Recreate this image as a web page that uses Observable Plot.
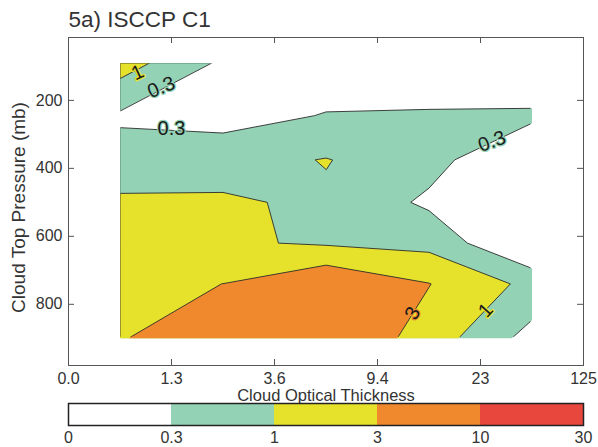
<!DOCTYPE html>
<html>
<head>
<meta charset="utf-8">
<script src="https://cdn.jsdelivr.net/npm/d3@7"></script>
<script src="https://cdn.jsdelivr.net/npm/@observablehq/plot@0.6"></script>
<style>
  html, body { margin: 0; padding: 0; background: #fff; }
  #chart { width: 598px; height: 447px; overflow: hidden; position: relative; background: #fff; }
  #chart svg { display: block; overflow: visible; position: absolute; left: 0; }
</style>
</head>
<body>
<div id="chart"></div>
<script>
// ---------- data ----------
const title = "5a) ISCCP C1";
const xLabel = "Cloud Optical Thickness";
const yLabel = "Cloud Top Pressure (mb)";
const tauTickLabels = ["0.0", "1.3", "3.6", "9.4", "23", "125"];   // bin edges
const tauBinCenters = [0.5, 1.5, 2.5, 3.5, 4.5];                     // bin index positions
const pressureLevels = [90, 245, 375, 500, 620, 740, 900];            // mb
const pressureTicks = [200, 400, 600, 800];
// cloud amount (%) : one row per pressure level, one column per optical-thickness bin
const cloudAmount = [
  [1.76, 0.24,  0.13,  0.087, 0.056],
  [0.25, 0.18,  0.32,  0.355, 0.394],
  [0.49, 0.66,  1.05,  0.468, 0.079],
  [1.21, 1.135, 0.845, 0.24,  0.05 ],
  [1.58, 1.153, 0.885, 0.721, 0.069],
  [2.0,  3.02,  8.5,   3.09,  0.741],
  [2.82, 6.0,   7.9,   1.95,  0.19 ]
];
const contourLevels = [0.3, 1, 3, 10];
const legendLabels = ["0", "0.3", "1", "3", "10", "30"];
// contour line labels (position in tau-bin / pressure units)
const labelTau   = [0.67, 0.90, 1.00, 4.11, 3.34, 4.05];
const labelP     = [118,  162,  282,  321,  826,  818];
const labelLevel = [1,    0.3,  0.3,  0.3,  3,    1];
const labelAngle = [-25,  -22,  0,    -20,  -61,  -48];

// ---------- styling ----------
const levelColors = ["#ffffff", "#93d2b4", "#e6e22c", "#f0892e", "#e8473d"];
const font = "'Liberation Sans', Arial, Helvetica, sans-serif";
const W = 598, H1 = 400, H2 = 47;
const mL = 68, mR = 15, mT = 37, mB = 35;
const frameW = W - mL - mR, frameH = H1 - mT - mB;

// ---------- derived tables ----------
const nCols = tauBinCenters.length, nRows = pressureLevels.length;
const rowIndex = d3.range(nRows);
const labels = labelTau.map((tau, i) => ({
  tau, p: labelP[i], level: labelLevel[i], text: String(labelLevel[i]), angle: labelAngle[i]
}));
const logLevels = contourLevels.map(Math.log10);
const tauTicks = d3.range(tauTickLabels.length);
// filled contour bands of the (log) cloud amount on the tau x pressure grid (marching squares)
const bands = d3.contours().size([nCols, nRows]).thresholds(logLevels)(cloudAmount.flat().map(Math.log10));

// ---------- axes, frame, labels (top layer) ----------
const main = Plot.plot({
  width: W, height: H1,
  marginLeft: mL, marginRight: mR, marginTop: mT, marginBottom: mB,
  style: {fontFamily: font, fontSize: "16px", color: "#333", background: "transparent"},
  x: {domain: [0, tauTickLabels.length - 1]},
  y: {domain: [15, 980], reverse: true},
  color: {type: "threshold", domain: logLevels, range: levelColors},
  marks: [
    Plot.text(labels, {
      x: "tau", y: "p", text: "text", rotate: "angle",
      fill: "#1a1a1a", stroke: d => Math.log10(d.level), strokeWidth: 2.5, paintOrder: "stroke",
      fontSize: 20, fontFamily: font
    }),
    Plot.frame({stroke: "#555"}),
    // inward ticks on all four sides
    Plot.tickX(tauTicks, {x: d => d, insetTop: frameH - 6, stroke: "#555"}),
    Plot.tickX(tauTicks, {x: d => d, insetBottom: frameH - 6, stroke: "#555"}),
    Plot.tickY(pressureTicks, {y: d => d, insetRight: frameW - 6, stroke: "#555"}),
    Plot.tickY(pressureTicks, {y: d => d, insetLeft: frameW - 6, stroke: "#555"}),
    Plot.axisX(tauTicks, {tickSize: 0, tickPadding: 7, tickFormat: i => tauTickLabels[i], label: null, fontSize: 16}),
    Plot.axisY(pressureTicks, {tickSize: 0, tickPadding: 6, label: null, fontSize: 16}),
    Plot.text([xLabel], {frameAnchor: "bottom", lineAnchor: "middle", dy: 30, fontSize: 16.5, fill: "#333"}),
    Plot.text([yLabel], {frameAnchor: "left", textAnchor: "middle", lineAnchor: "middle", rotate: -90, dx: -50, dy: 6, fontSize: 19, fill: "#333"}),
    Plot.text([title], {frameAnchor: "top-left", textAnchor: "start", lineAnchor: "middle", dy: -18, fontSize: 22.5, fill: "#333"})
  ]
});

// ---------- filled contours (bottom layer) ----------
// grid coordinates -> pixels through the main plot's scales; rows sit at their pressure levels
const xScale = main.scale("x"), yScale = main.scale("y");
const rowToPixel = d3.scaleLinear(rowIndex, pressureLevels.map(p => yScale.apply(p)));
const tauMin = d3.min(tauBinCenters), tauMax = d3.max(tauBinCenters);
const gridProjection = d3.geoTransform({
  point(u, v) {
    const tau = Math.max(tauMin, Math.min(tauMax, u));          // grid u == tau-bin coordinate
    const row = Math.max(0, Math.min(nRows - 1, v - 0.5));
    this.stream.point(xScale.apply(tau), rowToPixel(row));
  }
});
const dataRect = {
  x0: xScale.apply(tauMin), x1: xScale.apply(tauMax),
  y0: rowToPixel(0), y1: rowToPixel(nRows - 1)
};
// hide the isoline strokes that run along the border of the data rectangle
function clipInside(id, inset) {
  return function (index, scales, values, dimensions, context, next) {
    const g = next(index, scales, values, dimensions, context);
    const ns = "http://www.w3.org/2000/svg";
    const wrap = document.createElementNS(ns, "g");
    const cp = document.createElementNS(ns, "clipPath");
    cp.setAttribute("id", id);
    const r = document.createElementNS(ns, "rect");
    r.setAttribute("x", Math.min(dataRect.x0, dataRect.x1) + inset);
    r.setAttribute("y", Math.min(dataRect.y0, dataRect.y1) + inset);
    r.setAttribute("width", Math.abs(dataRect.x1 - dataRect.x0) - 2 * inset);
    r.setAttribute("height", Math.abs(dataRect.y1 - dataRect.y0) - 2 * inset);
    cp.appendChild(r);
    wrap.appendChild(cp);
    wrap.setAttribute("clip-path", `url(#${id})`);
    if (g) wrap.appendChild(g);
    return wrap;
  };
}
const field = Plot.plot({
  width: W, height: H1,
  marginLeft: mL, marginRight: mR, marginTop: mT, marginBottom: mB,
  style: {background: "#fff"},
  projection: gridProjection,
  color: {type: "threshold", domain: logLevels, range: levelColors},
  marks: [
    Plot.geo(bands, {fill: d => d.value, stroke: null}),
    Plot.geo(bands, {fill: "none", stroke: "#2b2b2b", strokeWidth: 0.9, render: clipInside("line-clip", 1)})
  ]
});

// ---------- colour bar ----------
const legendBins = legendLabels.slice(0, -1).map((lab, i) => ({i, lab}));
const colorbar = Plot.plot({
  width: W, height: H2,
  marginLeft: mL, marginRight: mR, marginTop: 3, marginBottom: 22,
  style: {fontFamily: font, fontSize: "16px", color: "#333", background: "transparent"},
  x: {domain: [0, legendLabels.length - 1]},
  color: {type: "ordinal", domain: legendBins.map(d => d.i), range: levelColors},
  marks: [
    Plot.barX(legendBins, {x1: "i", x2: d => d.i + 1, fill: "i"}),
    Plot.frame({stroke: "#222", strokeWidth: 1.5}),
    Plot.axisX(d3.range(legendLabels.length), {tickSize: 0, tickPadding: 6, tickFormat: i => legendLabels[i], label: null, fontSize: 16})
  ]
});

const root = document.getElementById("chart");
field.style.top = "0px";
main.style.top = "0px";
colorbar.style.top = H1 + "px";
root.appendChild(field);
root.appendChild(main);
root.appendChild(colorbar);
</script>
</body>
</html>
